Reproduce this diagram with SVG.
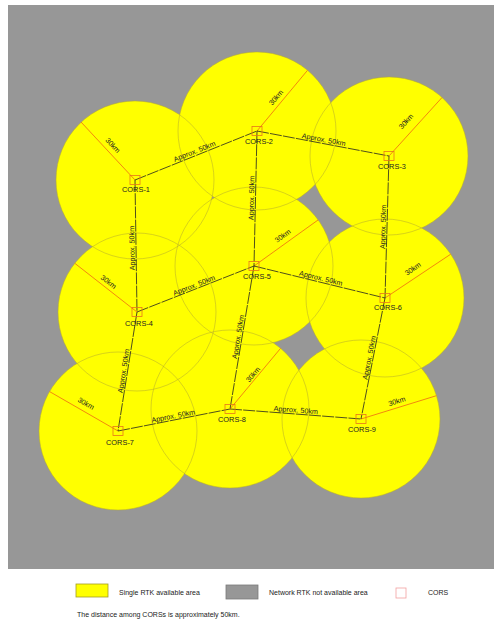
<svg xmlns="http://www.w3.org/2000/svg" width="494" height="623" viewBox="0 0 494 623">
<style>
text{font-family:"Liberation Sans",Arial,sans-serif;fill:#222}
.area{fill:#ffff00}
.ring{fill:none;stroke:#b5aa2e;stroke-width:0.7;opacity:0.75}
.link{stroke:#222;stroke-width:0.8;stroke-dasharray:12 1.2}
.rad{stroke:#f07a10;stroke-width:0.9}
.sq{fill:none;stroke:#e8761a;stroke-width:0.8}
.lbl{font-size:7.4px;text-anchor:middle}
.dist{font-size:7.2px;text-anchor:middle}
.leg{font-size:7px}
</style>
<rect x="0" y="0" width="494" height="623" fill="#ffffff"/>
<rect x="8" y="5" width="486" height="564" fill="#979797"/>
<g id="coverage">
<circle class="area" cx="135" cy="180" r="79"/>
<circle class="area" cx="257" cy="131" r="79"/>
<circle class="area" cx="389" cy="156" r="79"/>
<circle class="area" cx="137" cy="312" r="79"/>
<circle class="area" cx="254" cy="266" r="79"/>
<circle class="area" cx="385" cy="298" r="79"/>
<circle class="area" cx="118" cy="431" r="79"/>
<circle class="area" cx="230" cy="409" r="79"/>
<circle class="area" cx="361" cy="419" r="79"/>
<circle class="ring" cx="135" cy="180" r="79"/>
<circle class="ring" cx="257" cy="131" r="79"/>
<circle class="ring" cx="389" cy="156" r="79"/>
<circle class="ring" cx="137" cy="312" r="79"/>
<circle class="ring" cx="254" cy="266" r="79"/>
<circle class="ring" cx="385" cy="298" r="79"/>
<circle class="ring" cx="118" cy="431" r="79"/>
<circle class="ring" cx="230" cy="409" r="79"/>
<circle class="ring" cx="361" cy="419" r="79"/>
</g>
<g id="radii">
<line class="rad" x1="135" y1="180" x2="81" y2="122"/>
<line class="rad" x1="257" y1="131" x2="307.5" y2="70.3"/>
<line class="rad" x1="389" y1="156" x2="442" y2="97.5"/>
<line class="rad" x1="137" y1="312" x2="74.8" y2="263.3"/>
<line class="rad" x1="254" y1="266" x2="318" y2="220"/>
<line class="rad" x1="385" y1="298" x2="450.7" y2="254.2"/>
<line class="rad" x1="118" y1="431" x2="49.6" y2="391.6"/>
<line class="rad" x1="230" y1="409" x2="280.6" y2="348.3"/>
<line class="rad" x1="361" y1="419" x2="436.4" y2="395.7"/>
<text class="dist" transform="translate(110,148) rotate(47)" y="-1.5">30km</text>
<text class="dist" transform="translate(279,100) rotate(-50)" y="-1.5">30km</text>
<text class="dist" transform="translate(409,124) rotate(-48)" y="-1.5">30km</text>
<text class="dist" transform="translate(106,285) rotate(38)" y="-1.5">30km</text>
<text class="dist" transform="translate(285,239) rotate(-36)" y="-1.5">30km</text>
<text class="dist" transform="translate(415,272) rotate(-34)" y="-1.5">30km</text>
<text class="dist" transform="translate(84,407) rotate(30)" y="-1.5">30km</text>
<text class="dist" transform="translate(256,377) rotate(-50)" y="-1.5">30km</text>
<text class="dist" transform="translate(398,405) rotate(-17)" y="-1.5">30km</text>
</g>
<g id="connectors">
<line class="link" x1="135" y1="180" x2="257" y2="131"/>
<line class="link" x1="257" y1="131" x2="389" y2="156"/>
<line class="link" x1="257" y1="131" x2="254" y2="266"/>
<line class="link" x1="389" y1="156" x2="385" y2="298"/>
<line class="link" x1="135" y1="180" x2="137" y2="312"/>
<line class="link" x1="137" y1="312" x2="254" y2="266"/>
<line class="link" x1="254" y1="266" x2="385" y2="298"/>
<line class="link" x1="137" y1="312" x2="118" y2="431"/>
<line class="link" x1="254" y1="266" x2="230" y2="409"/>
<line class="link" x1="385" y1="298" x2="361" y2="419"/>
<line class="link" x1="118" y1="431" x2="230" y2="409"/>
<line class="link" x1="230" y1="409" x2="361" y2="419"/>
<text class="dist" transform="translate(196,155) rotate(-21.9)" y="-1.5">Approx. 50km</text>
<text class="dist" transform="translate(323,143.5) rotate(10.7)" y="-1.5">Approx. 50km</text>
<text class="dist" transform="translate(255.5,198) rotate(-88.7)" y="-1.5">Approx. 50km</text>
<text class="dist" transform="translate(387,227) rotate(-88.4)" y="-1.5">Approx. 50km</text>
<text class="dist" transform="translate(136,248) rotate(-90.9)" y="-1.5">Approx. 50km</text>
<text class="dist" transform="translate(195.5,289) rotate(-21.5)" y="-1.5">Approx. 50km</text>
<text class="dist" transform="translate(320,282) rotate(13.7)" y="-1.5">Approx. 50km</text>
<text class="dist" transform="translate(127.5,371.5) rotate(-80.9)" y="-1.5">Approx. 50km</text>
<text class="dist" transform="translate(242,337.5) rotate(-80.5)" y="-1.5">Approx. 50km</text>
<text class="dist" transform="translate(373,358.5) rotate(-78.8)" y="-1.5">Approx. 50km</text>
<text class="dist" transform="translate(174,420) rotate(-11.1)" y="-1.5">Approx. 50km</text>
<text class="dist" transform="translate(295.5,414) rotate(4.4)" y="-1.5">Approx. 50km</text>
</g>
<g id="cors-1"><rect class="sq" x="130" y="175.5" width="10" height="9"/><text class="lbl" x="136" y="192">CORS-1</text></g>
<g id="cors-2"><rect class="sq" x="252" y="126.5" width="10" height="9"/><text class="lbl" x="259" y="144">CORS-2</text></g>
<g id="cors-3"><rect class="sq" x="384" y="151.5" width="10" height="9"/><text class="lbl" x="392" y="169">CORS-3</text></g>
<g id="cors-4"><rect class="sq" x="132" y="307.5" width="10" height="9"/><text class="lbl" x="139" y="326">CORS-4</text></g>
<g id="cors-5"><rect class="sq" x="249" y="261.5" width="10" height="9"/><text class="lbl" x="257" y="279">CORS-5</text></g>
<g id="cors-6"><rect class="sq" x="380" y="293.5" width="10" height="9"/><text class="lbl" x="388" y="310">CORS-6</text></g>
<g id="cors-7"><rect class="sq" x="113" y="426.5" width="10" height="9"/><text class="lbl" x="120" y="445">CORS-7</text></g>
<g id="cors-8"><rect class="sq" x="225" y="404.5" width="10" height="9"/><text class="lbl" x="232" y="422">CORS-8</text></g>
<g id="cors-9"><rect class="sq" x="356" y="414.5" width="10" height="9"/><text class="lbl" x="362" y="432">CORS-9</text></g>
<g id="legend">
<rect x="76" y="584" width="32" height="13" fill="#ffff00" stroke="#a39c24" stroke-width="0.8"/>
<text class="leg" x="119" y="594.5">Single RTK available area</text>
<rect x="226" y="585" width="32" height="14" fill="#979797" stroke="#7a7a7a" stroke-width="0.8"/>
<text class="leg" x="269" y="594.5">Network RTK not available area</text>
<rect x="396" y="588" width="10" height="10" fill="none" stroke="#f2a0a0" stroke-width="0.8"/>
<text class="leg" x="428" y="594.5">CORS</text>
<text class="leg" x="77" y="617">The distance among CORSs is approximately 50km.</text>
</g>
</svg>
